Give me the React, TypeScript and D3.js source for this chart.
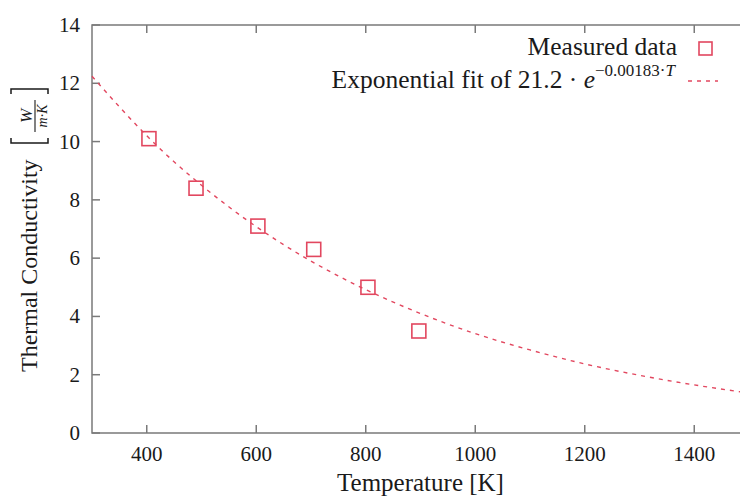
import React, { useRef, useEffect } from 'react';
import * as d3 from 'd3';

// measured points
const temperatures = [404, 490, 603, 705, 804, 897];
const conductivity = [10.1, 8.4, 7.1, 6.3, 5.0, 3.5];

// fit curve
const fitTemperatures = [300, 400, 500, 600, 700, 800, 900, 1000, 1100, 1200, 1300, 1400, 1500];
const fitValues = [12.24, 10.2, 8.5, 7.08, 5.9, 4.92, 4.1, 3.41, 2.85, 2.37, 1.98, 1.65, 1.37];

const xTicks = [400, 600, 800, 1000, 1200, 1400];
const yTicks = [0, 2, 4, 6, 8, 10, 12, 14];

const FONT = "'Liberation Serif', 'Times New Roman', Times, 'DejaVu Serif', serif";
const RED = '#e2475f';
const AXIS = '#7a7a7a';
const TEXT = '#1a1a1a';

const Chart = () => {
  const ref = useRef<SVGSVGElement | null>(null);

  useEffect(() => {
    if (!ref.current) return;
    const W = 740;
    const H = 498;
    const left = 92, right = 749, top = 25, bottom = 433;

    const svg = d3.select(ref.current);
    svg.selectAll('*').remove();
    svg.attr('width', W).attr('height', H).style('font-family', FONT);

    const x = d3.scaleLinear().domain([300, 1500]).range([left, right]);
    const y = d3.scaleLinear().domain([0, 14]).range([bottom, top]);

    // frame
    const frame = svg.append('g').attr('stroke', AXIS).attr('stroke-width', 1.5).attr('fill', 'none');
    frame.append('path').attr('d', `M${right},${top}H${left}V${bottom}H${right}`);

    // ticks (inside, mirrored on top)
    xTicks.forEach(t => {
      frame.append('line').attr('x1', x(t)).attr('x2', x(t)).attr('y1', bottom).attr('y2', bottom - 8);
      frame.append('line').attr('x1', x(t)).attr('x2', x(t)).attr('y1', top).attr('y2', top + 8);
    });
    yTicks.forEach(t => {
      frame.append('line').attr('x1', left).attr('x2', left + 8).attr('y1', y(t)).attr('y2', y(t));
    });

    // tick labels
    svg.append('g')
      .selectAll('text')
      .data(xTicks)
      .enter()
      .append('text')
      .attr('x', d => x(d))
      .attr('y', 461)
      .attr('text-anchor', 'middle')
      .style('font-size', '21px')
      .attr('fill', TEXT)
      .text(d => d);

    svg.append('g')
      .selectAll('text')
      .data(yTicks)
      .enter()
      .append('text')
      .attr('x', 80)
      .attr('y', d => y(d) + 7)
      .attr('text-anchor', 'end')
      .style('font-size', '21px')
      .attr('fill', TEXT)
      .text(d => d);

    // x axis label
    svg.append('text')
      .attr('x', (left + right) / 2)
      .attr('y', 491)
      .attr('text-anchor', 'middle')
      .style('font-size', '25px')
      .attr('fill', TEXT)
      .text('Temperature [K]');

    // y axis label with fraction unit
    const yl = svg.append('g')
      .attr('transform', 'translate(37,372) rotate(-90)')
      .attr('fill', TEXT);
    yl.append('text')
      .attr('x', 0)
      .attr('y', 0)
      .style('font-size', '24px')
      .text('Thermal Conductivity');
    yl.append('path')
      .attr('d', 'M234,-26H229V11H234 M278,-26H283V11H278')
      .attr('stroke', TEXT)
      .attr('stroke-width', 1.5)
      .attr('fill', 'none');
    yl.append('line')
      .attr('x1', 240).attr('x2', 272).attr('y1', -2).attr('y2', -2)
      .attr('stroke', TEXT).attr('stroke-width', 1.1);
    yl.append('text')
      .attr('x', 256).attr('y', -5)
      .attr('text-anchor', 'middle')
      .style('font-size', '17px')
      .style('font-style', 'italic')
      .text('W');
    yl.append('text')
      .attr('x', 256).attr('y', 10)
      .attr('text-anchor', 'middle')
      .style('font-size', '14px')
      .style('font-style', 'italic')
      .text('m·K');

    // fit line
    const line = d3.line<number>()
      .x((_, i) => x(fitTemperatures[i]))
      .y(d => y(d))
      .curve(d3.curveNatural);
    svg.append('path')
      .datum(fitValues)
      .attr('d', line)
      .attr('fill', 'none')
      .attr('stroke', RED)
      .attr('stroke-width', 1.4)
      .attr('stroke-dasharray', '4,5');

    // measured points
    const s = 14;
    svg.append('g')
      .selectAll('rect')
      .data(conductivity)
      .enter()
      .append('rect')
      .attr('x', (_, i) => x(temperatures[i]) - s / 2)
      .attr('y', d => y(d) - s / 2)
      .attr('width', s)
      .attr('height', s)
      .attr('fill', 'none')
      .attr('stroke', RED)
      .attr('stroke-width', 1.6);

    // legend
    const lg = svg.append('g').attr('fill', TEXT);
    lg.append('text')
      .attr('x', 677).attr('y', 55)
      .attr('text-anchor', 'end')
      .style('font-size', '25.5px')
      .text('Measured data');
    lg.append('rect')
      .attr('x', 699).attr('y', 42).attr('width', 13).attr('height', 13)
      .attr('fill', 'none').attr('stroke', RED).attr('stroke-width', 1.6);

    const fitLabel = lg.append('text')
      .attr('x', 675).attr('y', 88)
      .attr('text-anchor', 'end')
      .style('font-size', '25.5px');
    fitLabel.append('tspan').text('Exponential fit of 21.2 · ');
    fitLabel.append('tspan').style('font-style', 'italic').text('e');
    fitLabel.append('tspan').style('font-size', '17px').attr('dy', -12).text('−0.00183·');
    fitLabel.append('tspan').style('font-size', '17px').style('font-style', 'italic').text('T');
    lg.append('line')
      .attr('x1', 688).attr('x2', 718).attr('y1', 81).attr('y2', 81)
      .attr('stroke', RED).attr('stroke-width', 1.4).attr('stroke-dasharray', '4,5');
  }, []);

  return <svg ref={ref} style={{ position: 'absolute', left: 0, top: 0, display: 'block' }} />;
};

export default function App() {
  return <Chart />;
}
